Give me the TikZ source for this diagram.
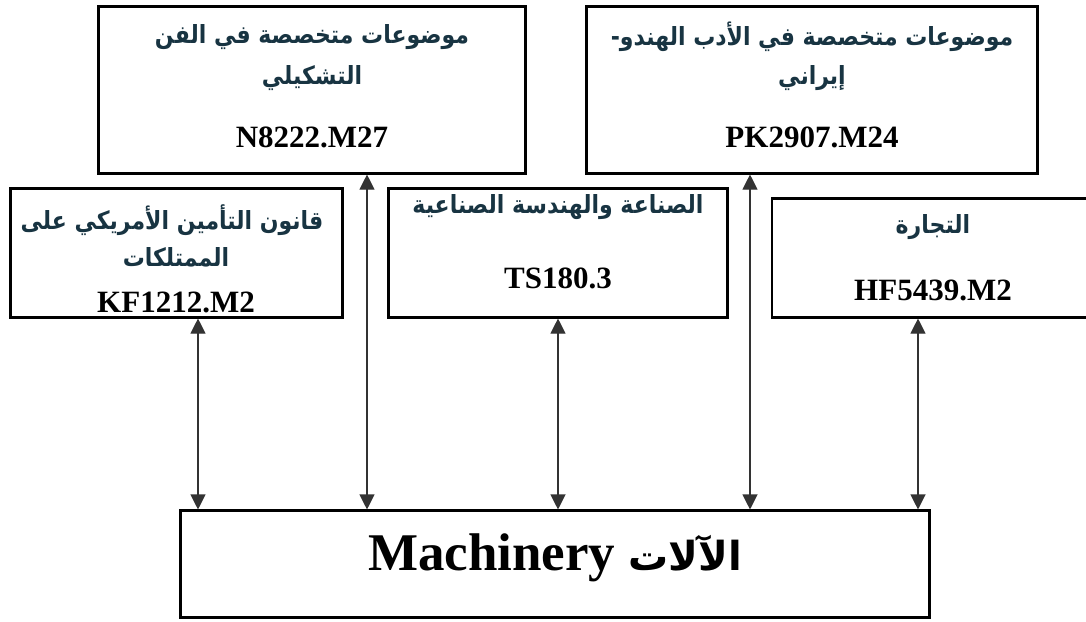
\documentclass[tikz,border=0pt]{standalone}
\usepackage{fontspec}
\setmainfont{Liberation Serif}
\newfontfamily\arabicfont[Script=Arabic, FakeStretch=0.88]{DejaVu Sans}
\newfontfamily\arabicbig[Script=Arabic]{DejaVu Sans}
\TeXXeTstate=1
\usetikzlibrary{arrows.meta}
\definecolor{artext}{RGB}{24,52,66}
\tikzset{
  box/.style={draw=black, line width=2.1pt, rectangle, inner sep=0pt},
  code/.style={font=\fontsize{31}{36}\selectfont\bfseries, anchor=base, inner sep=0pt},
  ar/.style={font=\fontsize{25}{30}\arabicfont\bfseries, text=artext, inner sep=0pt},
  biarrow/.style={draw=black!80, line width=1.1pt, {Triangle[width=15pt,length=15pt]}-{Triangle[width=15pt,length=15pt]}},
}
\begin{document}
\begin{tikzpicture}[x=1pt,y=-1pt]
\useasboundingbox (0,0) rectangle (1086,621);
\fill[white] (0,0) rectangle (1086,621);
% boxes
\node[box, minimum width=427pt, minimum height=167pt] (N) at (312,90) {};
\node[box, minimum width=451pt, minimum height=167pt] (PK) at (812,90) {};
\node[box, minimum width=332pt, minimum height=129pt] (KF) at (176.5,253) {};
\node[box, minimum width=339pt, minimum height=129pt] (TS) at (558,253) {};
\begin{scope}
\clip (0,0) rectangle (1086,621);
\node[box, minimum width=322pt, minimum height=119pt] (HF) at (933,258) {};
\end{scope}
\node[box, minimum width=749pt, minimum height=107pt] (M) at (555,564) {};
% texts
\node[ar] (N1) at (312,37) {\beginR موضوعات متخصصة في الفن\endR};
\node[ar] (N2) at (312,78) {\beginR التشكيلي\endR};
\node[code] (N3) at (312,147) {N8222.M27};
\node[ar] (P1) at (812,37) {\beginR موضوعات متخصصة في الأدب الهندو-\endR};
\node[ar] (P2) at (812,78) {\beginR إيراني\endR};
\node[code] (P3) at (812,147) {PK2907.M24};
\node[ar] (K1) at (172,220) {\beginR قانون التأمين الأمريكي على\endR};
\node[ar] (K2) at (176,257) {\beginR الممتلكات\endR};
\node[code] (K3) at (176,312) {KF1212.M2};
\node[ar] (T1) at (558,207) {\beginR الصناعة والهندسة الصناعية\endR};
\node[code] (T2) at (558,288) {TS180.3};
\node[ar] (H1) at (933,227) {\beginR التجارة\endR};
\node[code] (H2) at (933,300) {HF5439.M2};
\node[anchor=base, inner sep=0pt] (M1) at (555,570) {\fontsize{53}{60}\selectfont\bfseries Machinery {\fontsize{40}{48}\arabicbig\bfseries\beginR الآلات\endR}};
% connector positions
\coordinate (c1) at (198,0);
\coordinate (c2) at (367,0);
\coordinate (c3) at (558,0);
\coordinate (c4) at (750,0);
\coordinate (c5) at (918,0);
\draw[biarrow] (c1 |- KF.south) -- (c1 |- M.north);
\draw[biarrow] (c2 |- N.south) -- (c2 |- M.north);
\draw[biarrow] (c3 |- TS.south) -- (c3 |- M.north);
\draw[biarrow] (c4 |- PK.south) -- (c4 |- M.north);
\draw[biarrow] (c5 |- HF.south) -- (c5 |- M.north);
\end{tikzpicture}
\end{document}
